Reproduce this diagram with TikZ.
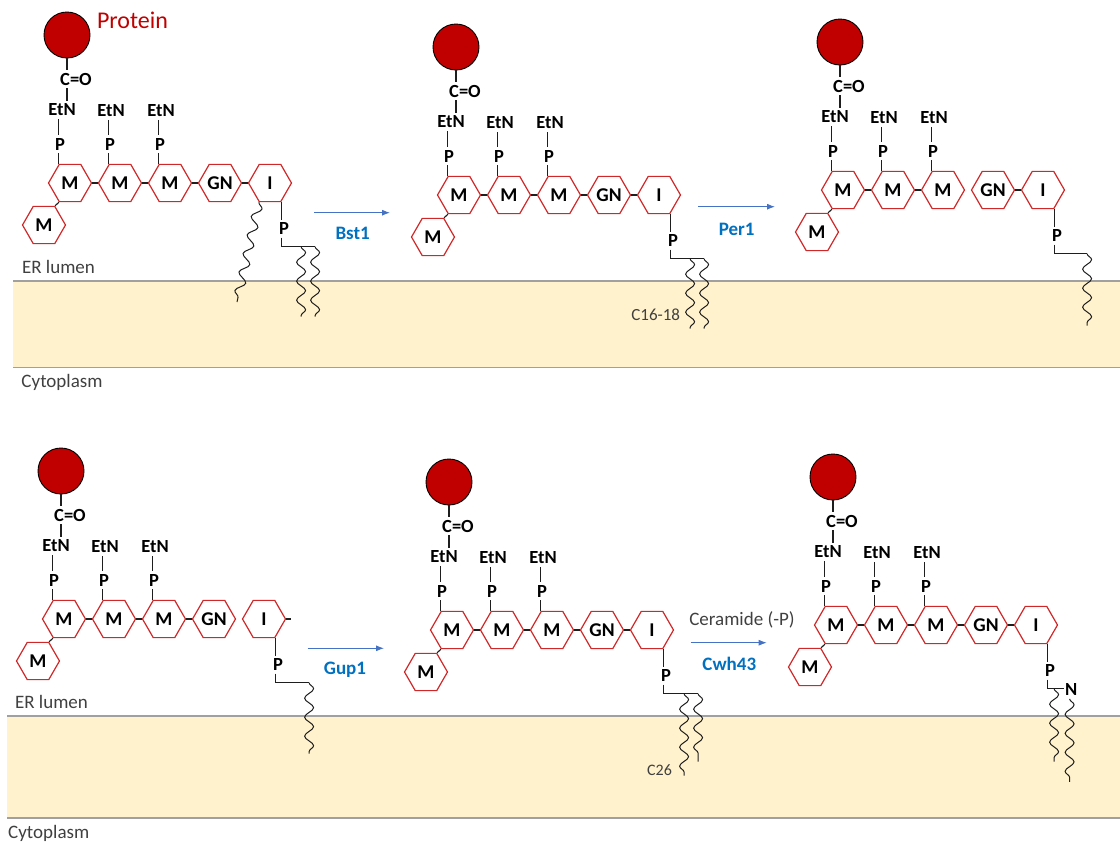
\documentclass[tikz,border=0pt]{standalone}
\usepackage{fontspec}
\setmainfont{Carlito}
\usetikzlibrary{shapes.geometric,decorations.pathmorphing,calc,arrows.meta}

\definecolor{hexred}{RGB}{208,40,40}
\definecolor{protred}{RGB}{192,0,0}
\definecolor{bondgray}{RGB}{30,30,30}
\definecolor{arrowblue}{RGB}{68,114,196}
\definecolor{enzblue}{RGB}{0,112,192}
\definecolor{notegray}{RGB}{64,64,64}
\definecolor{membfill}{RGB}{255,242,204}
\definecolor{membline}{RGB}{160,160,160}

\newcommand{\hexfont}{\fontsize{19.5}{19.5}\selectfont\bfseries}
\newcommand{\grpfont}{\fontsize{18.5}{18.5}\selectfont\bfseries}
\newcommand{\enzfont}{\fontsize{19}{19}\selectfont\bfseries}
\newcommand{\notefont}{\fontsize{19}{19}\selectfont}
\newcommand{\chainfont}{\fontsize{17}{17}\selectfont}

\tikzset{
  hexa/.style={regular polygon, regular polygon sides=6, minimum size=43pt,
    inner sep=0pt, draw=hexred, line width=1.2pt, fill=white, font=\hexfont},
  protein/.style={circle, fill=protred, draw=black, line width=0.9pt,
    minimum size=46pt, inner sep=0pt},
  grp/.style={inner sep=0pt, outer sep=3pt, font=\grpfont},
  bond/.style={draw=bondgray, line width=1.1pt},
  tail/.style={draw=bondgray, line width=1pt, decorate,
    decoration={snake, amplitude=4.5pt, segment length=19pt}},
  arr/.style={draw=arrowblue, line width=0.9pt, -{Latex[length=8pt,width=6pt]}},
  enz/.style={text=enzblue, font=\enzfont, inner sep=0pt},
  note/.style={text=notegray, font=\notefont, inner sep=0pt},
  chainlbl/.style={text=notegray, font=\chainfont, inner sep=0pt},
}

% GPI core: protein, ethanolamine phosphates, mannoses, GlcN and inositol
\newcommand{\gpicore}[3]{%
\begin{scope}[shift={(#2,#3)}]
  \node[hexa] (#1m1) at (0,0) {M};
  \node[hexa] (#1m2) at (50,0) {M};
  \node[hexa] (#1m3) at (100,0) {M};
  \node[hexa] (#1gn) at (150,0) {GN};
  \node[hexa] (#1in) at (200,0) {I};
  \node[hexa] (#1m0) at (-26,42) {M};
  \node[protein] (#1pr) at (-3,-148) {};
  \node[grp] (#1co) at (6,-104) {C=O};
  \node[grp] (#1e1) at (-8,-73) {EtN};
  \node[grp] (#1p1) at (-10,-39) {P};
  \node[grp] (#1e2) at (41,-72) {EtN};
  \node[grp] (#1p2) at (40,-39) {P};
  \node[grp] (#1e3) at (91,-72) {EtN};
  \node[grp] (#1p3) at (90,-39) {P};
  \draw[bond] (#1pr.south) -- (#1pr.south |- #1co.north);
  \draw[bond] (#1pr.south |- #1co.south) -- (#1pr.south |- #1e1.north);
  \foreach \k in {1,2,3} {
    \draw[bond] (#1m\k.120 |- #1e\k.south) -- (#1m\k.120 |- #1p\k.north);
    \draw[bond] (#1m\k.120 |- #1p\k.south) -- (#1m\k.120);
  }
  \draw[bond] (#1m1.0) -- (#1m2.180);
  \draw[bond] (#1m2.0) -- (#1m3.180);
  \draw[bond] (#1m1.240) -- (#1m0.60);
\end{scope}}

% phosphate below the inositol, ending in a bend
\newcommand{\phook}[1]{%
  \node[grp] (#1pi) at ($(#1in.300)+(3,26.5)$) {P};
  \coordinate (#1bend) at ($(#1in.300)+(0,44.5)$);
  \draw[bond] (#1in.300) -- (#1in.300 |- #1pi.north);
  \draw[bond] (#1in.300 |- #1pi.south) -- (#1bend);
}

\begin{document}
\begin{tikzpicture}[x=1pt,y=-1pt]
\useasboundingbox (0,0) rectangle (1120,844);

% membranes
\fill[membfill] (13,281) rectangle (1120,367.5);
\draw[membline, line width=1.4pt] (13,281) -- (1120,281);
\draw[membline, line width=1.4pt] (13,367.5) -- (1120,367.5);
\fill[membfill] (7,716) rectangle (1120,818);
\draw[membline, line width=1.4pt] (7,716) -- (1120,716);
\draw[membline, line width=1.4pt] (7,818) -- (1120,818);

\node[note] (lumA) at (58.5,267) {ER lumen};
\node[note] (cytA) at (62,382) {Cytoplasm};
\node[note] (lumB) at (51.5,702) {ER lumen};
\node[note] (cytB) at (48.7,833) {Cytoplasm};

% ---------- panel a ----------
\gpicore{a}{70}{183}
\node[text=protred, font=\fontsize{24}{24}\selectfont, inner sep=0pt] (protlbl) at (132.5,20) {Protein};
\draw[bond] (am3.0) -- (agn.180);
\draw[bond] (agn.0) -- (ain.180);
\phook{a}
\coordinate (aend) at ($(abend)+(34,0)$);
\draw[bond] (abend) -- (aend);
\coordinate (at1) at ($(abend)+(20,0)$);
\coordinate (at1e) at ($(at1)+(0,70)$);
\coordinate (at2e) at ($(aend)+(0,70)$);
\draw[tail] (at1) -- (at1e);
\draw[tail] (aend) -- (at2e);
\coordinate (aacyl) at (237,302);
\draw[tail] (ain.240) -- (aacyl);

\coordinate (bstS) at (314,212.7);
\coordinate (bstE) at (390,212.7);
\draw[arr] (bstS) -- (bstE);
\node[enz] (bst) at (352.7,233) {Bst1};

% ---------- panel b ----------
\gpicore{b}{459}{195}
\draw[bond] (bm3.0) -- (bgn.180);
\draw[bond] (bgn.0) -- (bin.180);
\phook{b}
\coordinate (bend) at ($(bbend)+(34,0)$);
\draw[bond] (bbend) -- (bend);
\coordinate (bt1) at ($(bbend)+(20,0)$);
\coordinate (bt1e) at ($(bt1)+(0,70)$);
\coordinate (bt2e) at ($(bend)+(0,70)$);
\draw[tail] (bt1) -- (bt1e);
\draw[tail] (bend) -- (bt2e);
\node[chainlbl] (c1618) at (655.7,314.3) {C16-18};

\coordinate (perS) at (698,206.7);
\coordinate (perE) at (775,206.7);
\draw[arr] (perS) -- (perE);
\node[enz] (per) at (736.7,229.3) {Per1};

% ---------- panel c ----------
\gpicore{c}{843}{190}
\draw[bond] (cgn.0) -- (cin.180);
\phook{c}
\coordinate (cend) at ($(cbend)+(33,0)$);
\draw[bond] (cbend) -- (cend);
\coordinate (ct1e) at ($(cend)+(0,72)$);
\draw[tail] (cend) -- (ct1e);

% ---------- panel d ----------
\gpicore{d}{64}{619}
\draw[bond] (dm3.0) -- (dgn.180);
\coordinate (dstub) at ($(din.0)+(5,0)$);
\draw[bond] (din.0) -- (dstub);
\phook{d}
\coordinate (dend) at ($(dbend)+(34,0)$);
\draw[bond] (dbend) -- (dend);
\coordinate (dt1e) at ($(dend)+(0,71)$);
\draw[tail] (dend) -- (dt1e);

\coordinate (gupS) at (307.7,648.3);
\coordinate (gupE) at (384,648.3);
\draw[arr] (gupS) -- (gupE);
\node[enz] (gup) at (345,669.3) {Gup1};

% ---------- panel e ----------
\gpicore{e}{452}{630}
\draw[bond] (em3.0) -- (egn.180);
\draw[bond] (egn.0) -- (ein.180);
\phook{e}
\coordinate (eend) at ($(ebend)+(35,0)$);
\draw[bond] (ebend) -- (eend);
\coordinate (et1) at ($(ebend)+(21,0)$);
\coordinate (et1e) at ($(et1)+(0,82)$);
\coordinate (et2e) at ($(eend)+(0,68)$);
\draw[tail] (et1) -- (et1e);
\draw[tail] (eend) -- (et2e);
\node[chainlbl, font=\fontsize{16}{16}\selectfont] (c26) at (659.5,770) {C26};

\node[note] (ceram) at (742,620) {Ceramide (-P)};
\coordinate (cwhS) at (690.7,642.7);
\coordinate (cwhE) at (766.7,642.7);
\draw[arr] (cwhS) -- (cwhE);
\node[enz] (cwh) at (729.3,664) {Cwh43};

% ---------- panel f ----------
\gpicore{f}{836}{625}
\draw[bond] (fm3.0) -- (fgn.180);
\draw[bond] (fgn.0) -- (fin.180);
\phook{f}
\node[grp, outer sep=1.5pt] (fn) at ($(fbend)+(24,0.7)$) {N};
\draw[bond] (fbend) -- (fbend -| fn.west);
\coordinate (ft1) at ($(fbend)+(7,0)$);
\coordinate (ft1e) at ($(ft1)+(0,73)$);
\draw[tail] (ft1) -- (ft1e);
\coordinate (ft2) at ($(fn.south)+(-1.5,2)$);
\coordinate (ft2e) at ($(ft2)+(0,83)$);
\draw[tail] (ft2) -- (ft2e);

\end{tikzpicture}
\end{document}
